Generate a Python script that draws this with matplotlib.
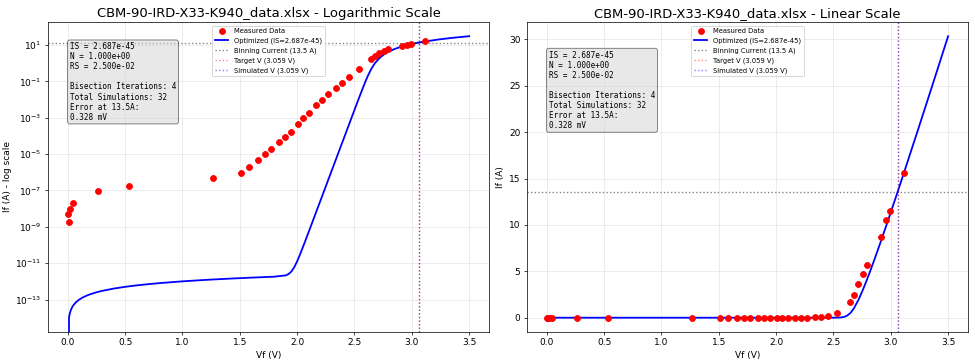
import matplotlib
matplotlib.use("Agg")
import matplotlib.pyplot as plt

# Measured data
meas_v = [0.004, 0.01, 0.02, 0.048, 0.265, 0.53, 1.265, 1.51, 1.58, 1.66, 1.72, 1.775,
          1.845, 1.895, 1.945, 2.005, 2.055, 2.10, 2.165, 2.215, 2.27, 2.34, 2.395,
          2.455, 2.535, 2.643, 2.678, 2.718, 2.758, 2.796, 2.918, 2.959, 2.997, 3.118]
meas_i = [5.0e-9, 1.9e-9, 9.8e-9, 2.0e-8, 9.1e-8, 1.86e-7, 4.7e-7, 9.5e-7, 1.95e-6,
          4.7e-6, 9.5e-6, 1.95e-5, 4.6e-5, 8.9e-5, 1.7e-4, 4.7e-4, 9.3e-4, 1.86e-3,
          4.8e-3, 9.3e-3, 0.020, 0.044, 0.085, 0.18, 0.46, 1.68, 2.47, 3.65, 4.68,
          5.68, 8.72, 10.5, 11.55, 15.6]

# Simulated (optimized) curve
curve_v = [0.0, 0.01, 0.015, 0.02, 0.03, 0.04, 0.05, 0.07, 0.1, 0.13, 0.17, 0.2, 0.25,
           0.3, 0.4, 0.5, 0.6, 0.7, 0.8, 1.0, 1.2, 1.4, 1.6, 1.8, 1.9, 1.925, 1.95, 1.975,
           2.0, 2.025, 2.05, 2.075, 2.1, 2.125, 2.15, 2.175, 2.2, 2.225, 2.25, 2.275,
           2.3, 2.325, 2.35, 2.375, 2.4, 2.425, 2.45, 2.475, 2.5, 2.525, 2.5525, 2.577,
           2.6, 2.6165, 2.6477, 2.6781, 2.721, 2.7565, 2.789, 2.8197, 2.8494, 2.9069,
           2.9626, 3.0174, 3.0579, 3.0981, 3.2305, 3.3613, 3.491, 3.5]
curve_i = [0.0, 1.0e-14, 1.5e-14, 2.0e-14, 3.0e-14, 4.0e-14, 5.0e-14, 7.0e-14, 1.0e-13,
           1.3e-13, 1.7e-13, 2.0e-13, 2.5e-13, 3.0e-13, 4.0e-13, 5.0e-13, 6.0e-13,
           7.0e-13, 8.0e-13, 1.0e-12, 1.2e-12, 1.4e-12, 1.6e-12, 1.805e-12,
           2.12e-12, 2.51e-12, 3.49e-12, 6.03e-12, 1.27e-11, 3.01e-11, 7.59e-11,
           1.96e-10, 5.13e-10, 1.34e-9, 3.53e-9, 9.29e-9, 2.44e-8, 6.43e-8, 1.69e-7,
           4.45e-7, 1.17e-6, 3.08e-6, 8.09e-6, 2.13e-5, 5.6e-5, 1.47e-4, 3.87e-4,
           1.02e-3, 2.68e-3, 7.0e-3, 0.02, 0.05, 0.115, 0.2, 0.5, 1.0, 2.0, 3.0, 4.0,
           5.0, 6.0, 8.0, 10.0, 12.0, 13.5, 15.0, 20.0, 25.0, 30.0, 30.35]

binning_current = 13.5
target_v = 3.059
simulated_v = 3.059
titles = ["CBM-90-IRD-X33-K940_data.xlsx - Logarithmic Scale",
          "CBM-90-IRD-X33-K940_data.xlsx - Linear Scale"]
ylabels = ["If (A) - log scale", "If (A)"]
info_text = ("IS = 2.687e-45\nN = 1.000e+00\nRS = 2.500e-02\n\n"
             "Bisection Iterations: 4\nTotal Simulations: 32\nError at 13.5A:\n0.328 mV")

fig, axes = plt.subplots(1, 2, figsize=(15, 363 / 65), dpi=65)
fig.subplots_adjust(left=0.049, right=0.993, bottom=0.086, top=0.939, wspace=0.085)

text_y = [0.935, 0.908]
for k, ax in enumerate(axes):
    ax.plot(curve_v, curve_i, 'b-', linewidth=2, label='Optimized (IS=2.687e-45)', zorder=2)
    ax.plot(meas_v, meas_i, 'o', color='red', markersize=6.5, label='Measured Data', zorder=3)
    ax.axhline(binning_current, color='k', linestyle=':', alpha=0.5,
               label=f'Binning Current ({binning_current} A)')
    ax.axvline(target_v, color='r', linestyle=':', alpha=0.5,
               label=f'Target V ({target_v:.3f} V)')
    ax.axvline(simulated_v, color='b', linestyle=':', alpha=0.5,
               label=f'Simulated V ({simulated_v:.3f} V)')
    if k == 0:
        ax.set_yscale('log')
    ax.set_xlabel('Vf (V)')
    ax.set_ylabel(ylabels[k])
    ax.set_title(titles[k], fontsize=14.5)
    ax.grid(True, alpha=0.3)
    h, l = ax.get_legend_handles_labels()
    order = [1, 0, 2, 3, 4]
    ax.legend([h[i] for i in order], [l[i] for i in order], loc='upper center', fontsize=7.5)
    ax.text(0.05, text_y[k], info_text, transform=ax.transAxes, fontsize=8.5,
            family='monospace', va='top', linespacing=1.15,
            bbox=dict(boxstyle='round', facecolor='lightgray', alpha=0.5))

fig.savefig('out.png', dpi=65)
